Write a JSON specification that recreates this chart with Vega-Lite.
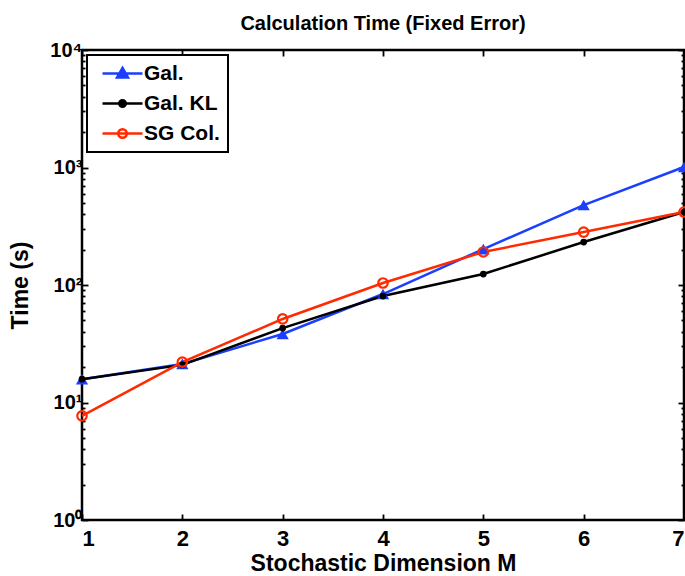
{
  "$schema": "https://vega.github.io/schema/vega-lite/v6.json",
  "width": 602,
  "height": 470,
  "autosize": {"type": "none"},
  "padding": {"left": 82, "top": 50, "right": 1, "bottom": 56},
  "title": {"text": "Calculation Time (Fixed Error)", "font": "Liberation Sans", "fontSize": 20, "fontWeight": "bold", "color": "black", "anchor": "middle", "offset": 6},
  "config": {
    "view": {"stroke": "black", "strokeWidth": 2.5},
    "font": "Liberation Sans",
    "legend": {"strokeWidth": 2},
    "axis": {
      "domain": false, "grid": false, "zindex": 1,
      "labelFont": "Liberation Sans", "labelFontWeight": "bold", "labelFontSize": 20, "labelColor": "black",
      "titleFont": "Liberation Sans", "titleFontWeight": "bold", "titleFontSize": 23, "titleColor": "black",
      "tickColor": "black", "tickWidth": 1.8
    }
  },
  "data": {"values": [
    {"M": 1, "time": 15.8, "series": "Gal."},
    {"M": 2, "time": 21.3, "series": "Gal."},
    {"M": 3, "time": 38.3, "series": "Gal."},
    {"M": 4, "time": 83.8, "series": "Gal."},
    {"M": 5, "time": 202, "series": "Gal."},
    {"M": 6, "time": 479, "series": "Gal."},
    {"M": 7, "time": 1009, "series": "Gal."},
    {"M": 1, "time": 15.8, "series": "Gal. KL"},
    {"M": 2, "time": 20.9, "series": "Gal. KL"},
    {"M": 3, "time": 43, "series": "Gal. KL"},
    {"M": 4, "time": 80.5, "series": "Gal. KL"},
    {"M": 5, "time": 124, "series": "Gal. KL"},
    {"M": 6, "time": 232, "series": "Gal. KL"},
    {"M": 7, "time": 418, "series": "Gal. KL"},
    {"M": 1, "time": 7.7, "series": "SG Col."},
    {"M": 2, "time": 22.1, "series": "SG Col."},
    {"M": 3, "time": 51.4, "series": "SG Col."},
    {"M": 4, "time": 104, "series": "SG Col."},
    {"M": 5, "time": 191, "series": "SG Col."},
    {"M": 6, "time": 282, "series": "SG Col."},
    {"M": 7, "time": 418, "series": "SG Col."}
  ]},
  "resolve": {"axis": {"x": "independent", "y": "independent"}},
  "layer": [
    {
      "layer": [
        {
          "transform": [{"filter": "datum.series == 'Gal.'"}],
          "mark": {"type": "line", "strokeWidth": 2.5, "color": "#1a3fff"},
          "encoding": {
            "x": {"field": "M", "type": "quantitative", "scale": {"domain": [1, 7], "nice": false, "zero": false},
              "axis": {"orient": "bottom", "values": [1, 2, 3, 4, 5, 6, 7], "format": "d", "title": "Stochastic Dimension M", "tickSize": -6, "labelFontSize": 22, "labelPadding": 14, "titlePadding": 3}},
            "y": {"field": "time", "type": "quantitative", "scale": {"type": "log", "domain": [1, 10000], "nice": false},
              "axis": {"orient": "left", "title": "Time (s)", "titlePadding": 17, "labelPadding": 6,
                "values": [1,2,3,4,5,6,7,8,9,10,20,30,40,50,60,70,80,90,100,200,300,400,500,600,700,800,900,1000,2000,3000,4000,5000,6000,7000,8000,9000,10000],
                "labelExpr": "datum.value==1?'10⁰':datum.value==10?'10¹':datum.value==100?'10²':datum.value==1000?'10³':datum.value==10000?'10⁴':''",
                "tickSize": {"condition": {"test": "indexof([1,10,100,1000,10000], datum.value) >= 0", "value": -6}, "value": -3}}}
          }
        },
        {
          "transform": [{"filter": "datum.series == 'Gal. KL'"}],
          "mark": {"type": "line", "strokeWidth": 2.5, "color": "#000000"},
          "encoding": {
            "x": {"field": "M", "type": "quantitative"},
            "y": {"field": "time", "type": "quantitative"}
          }
        },
        {
          "transform": [{"filter": "datum.series == 'SG Col.'"}],
          "mark": {"type": "line", "strokeWidth": 2.5, "color": "#ff2a00"},
          "encoding": {
            "x": {"field": "M", "type": "quantitative"},
            "y": {"field": "time", "type": "quantitative"}
          }
        },
        {
          "transform": [{"filter": "datum.series == 'Gal.'"}],
          "mark": {"type": "point", "shape": "triangle-up", "size": 150, "filled": true, "color": "#1a3fff", "opacity": 1},
          "encoding": {
            "x": {"field": "M", "type": "quantitative"},
            "y": {"field": "time", "type": "quantitative"}
          }
        },
        {
          "transform": [{"filter": "datum.series == 'Gal. KL'"}],
          "mark": {"type": "point", "shape": "circle", "size": 45, "filled": true, "color": "#000000", "opacity": 1},
          "encoding": {
            "x": {"field": "M", "type": "quantitative"},
            "y": {"field": "time", "type": "quantitative"}
          }
        },
        {
          "transform": [{"filter": "datum.series == 'SG Col.'"}],
          "mark": {"type": "point", "shape": "circle", "size": 90, "filled": false, "color": "#ff2a00", "strokeWidth": 2.2, "opacity": 1},
          "encoding": {
            "x": {"field": "M", "type": "quantitative"},
            "y": {"field": "time", "type": "quantitative"}
          }
        }
      ]
    },
    {
      "transform": [{"filter": "datum.M < 0"}],
      "mark": {"type": "point", "strokeWidth": 2.5, "opacity": 1},
      "encoding": {
        "x": {"field": "M", "type": "quantitative",
          "axis": {"orient": "top", "values": [1, 2, 3, 4, 5, 6, 7], "labels": false, "title": null, "tickSize": -6}},
        "y": {"field": "time", "type": "quantitative",
          "axis": {"orient": "right", "labels": false, "title": null,
            "values": [1,2,3,4,5,6,7,8,9,10,20,30,40,50,60,70,80,90,100,200,300,400,500,600,700,800,900,1000,2000,3000,4000,5000,6000,7000,8000,9000,10000],
            "tickSize": {"condition": {"test": "indexof([1,10,100,1000,10000], datum.value) >= 0", "value": -6}, "value": -3}}},
        "color": {"field": "series", "type": "nominal",
          "scale": {"domain": ["Gal.", "Gal. KL", "SG Col."], "range": ["#1a3fff", "#000000", "#ff2a00"]},
          "legend": {"orient": "top-left", "offset": 5, "title": null, "padding": 8, "strokeColor": "black", "fillColor": "white",
            "labelFont": "Liberation Sans", "labelFontWeight": "bold", "labelFontSize": 21, "labelColor": "black",
            "symbolSize": 100, "symbolStrokeWidth": 2.5, "symbolOffset": 17, "labelOffset": 11, "rowPadding": 8}},
        "shape": {"field": "series", "type": "nominal",
          "scale": {"domain": ["Gal.", "Gal. KL", "SG Col."],
            "range": ["M-4,0H4M0,-1.1L1.1,0.8L-1.1,0.8Z",
                      "M-4,0H4M0.65,0A0.65,0.65,0,1,1,-0.65,0A0.65,0.65,0,1,1,0.65,0Z",
                      "M-4,0H4M0.85,0A0.85,0.85,0,1,1,-0.85,0A0.85,0.85,0,1,1,0.85,0Z"]}},
        "fill": {"field": "series", "type": "nominal",
          "scale": {"domain": ["Gal.", "Gal. KL", "SG Col."], "range": ["#1a3fff", "#000000", "transparent"]}}
      }
    }
  ]
}
